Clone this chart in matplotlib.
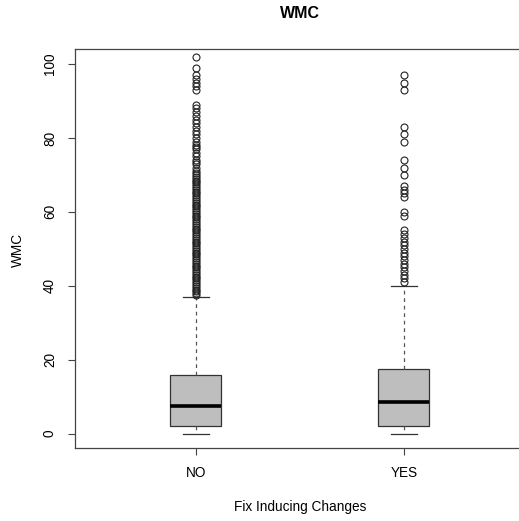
import matplotlib
matplotlib.use("Agg")
import matplotlib.pyplot as plt

plt.rcParams['font.family'] = ['Liberation Sans', 'DejaVu Sans']

groups = ["NO", "YES"]

# five-number summaries per group
q1 = [2, 2]
med = [7.5, 8.6]
q3 = [16, 17.4]
whislo = [0, 0]
whishi = [37, 40]

# points beyond the upper whisker
fliers_no = [37.5, 38, 38.5, 39, 39.5, 40, 40.5, 41, 41.5, 42, 42.5, 43, 43.5,
             44, 44.5, 45, 45.5, 46, 46.5, 47, 47.5, 48, 48.5, 49, 49.5, 50,
             50.5, 51, 51.5, 52, 52.5, 53, 53.5, 54, 54.5, 55, 55.5, 56, 56.5,
             57, 57.5, 58, 58.5, 59, 59.5, 60, 60.5, 61, 61.5, 62, 62.5, 63,
             63.5, 64, 64.5, 65, 65.5, 66, 66.5, 67, 67.5, 68, 68.5, 69, 69.5,
             70, 70.5, 71, 72, 73, 73.5, 74, 75, 76, 77, 77.5, 78, 79, 80, 81,
             82, 83, 84, 85, 86, 87, 88, 89, 93, 94, 95, 96, 97, 99, 102]
fliers_yes = [41, 42, 43, 44, 45, 46, 47, 48, 49, 50, 51, 52, 53, 54, 55, 59, 60,
              64, 65, 66, 67, 70, 72, 74, 79, 81, 83, 93, 95, 97]

yticks = [0, 20, 40, 60, 80, 100]

W, H = 519, 521
fig = plt.figure(figsize=(W / 100, H / 100), dpi=100, facecolor='w')
ax = fig.add_axes([75 / W, (H - 448.3) / H, (524.6 - 75) / W, (448.3 - 49.3) / H])

stats = []
for i in range(len(groups)):
    stats.append({
        'label': groups[i],
        'q1': q1[i], 'med': med[i], 'q3': q3[i],
        'whislo': whislo[i], 'whishi': whishi[i],
        'fliers': [fliers_no, fliers_yes][i],
    })

ax.bxp(stats, positions=[1, 2], widths=0.245, patch_artist=True,
       boxprops=dict(facecolor='#bebebe', edgecolor='#333333', linewidth=0.9),
       medianprops=dict(color='black', linewidth=2.6, solid_capstyle='butt'),
       whiskerprops=dict(color='#555555', linewidth=0.9, linestyle=(0, (3, 3))),
       capprops=dict(color='#333333', linewidth=0.9),
       capwidths=0.125,
       flierprops=dict(marker='o', markersize=5.0, markerfacecolor='none',
                       markeredgecolor='#222222', markeredgewidth=0.8))

ax.set_xlim(0.42, 2.58)
ax.set_ylim(-3.95, 104.0)
ax.set_yticks(yticks)
ax.set_yticklabels([str(t) for t in yticks], rotation=90, va='center')
ax.set_xticks([1, 2])
ax.set_xticklabels(groups)
ax.tick_params(axis='y', length=5, width=0.8, color='#444444', pad=8, labelsize=9.8)
ax.tick_params(axis='x', length=5, width=0.8, color='#444444', pad=8, labelsize=9.8)
for s in ax.spines.values():
    s.set_color('#444444')
    s.set_linewidth(0.9)
ax.spines['right'].set_visible(False)

fig.text(300 / W, 1 - 14 / H, "WMC", ha='center', va='center',
         fontsize=11.5, fontweight='bold')
fig.text(18 / W, 1 - 250 / H, "WMC", ha='center', va='center',
         rotation=90, fontsize=9.8)
fig.text(300 / W, 1 - 506.5 / H, "Fix Inducing Changes", ha='center',
         va='center', fontsize=9.8)

fig.savefig("out.png", dpi=100)
